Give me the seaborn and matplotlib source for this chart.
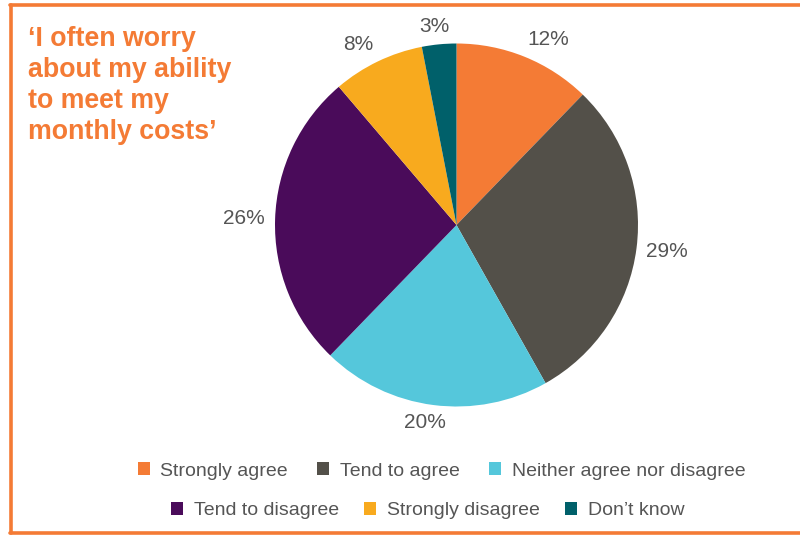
import matplotlib
matplotlib.use("Agg")
import numpy as np
import matplotlib.pyplot as plt
from matplotlib.patches import Patch
from matplotlib.lines import Line2D
import seaborn as sns

# Survey responses
categories = ["Strongly agree", "Tend to agree", "Neither agree nor disagree",
              "Tend to disagree", "Strongly disagree", "Don\u2019t know"]
values = [12, 29, 20, 26, 8, 3]
value_labels = [f"{v}%" for v in values]
title = "\u2018I often worry\nabout my ability\nto meet my\nmonthly costs\u2019"

colors = ["#F47B35", "#535049", "#55C7DB", "#4A0B5A", "#F8AA1E", "#00606A"]
accent = "#F47B35"
text_grey = "#555555"

sns.set_theme(style="white")
plt.rcParams["font.family"] = ["Liberation Sans", "DejaVu Sans"]

W, H = 800, 536
fig = plt.figure(figsize=(W / 100, H / 100), dpi=100)
fig.patch.set_facecolor("white")

# Pie axes: centre (456.5, 225) px, radius 181.5 px
cx, cy, r = 456.5, 225, 181.5
ax = fig.add_axes([(cx - r) / W, 1 - (cy + r) / H, 2 * r / W, 2 * r / H])

label_iter = iter(value_labels)
wedges, texts, autotexts = ax.pie(
    values,
    colors=colors,
    startangle=90,
    counterclock=False,
    autopct=lambda p: next(label_iter),
    pctdistance=1.15,
    wedgeprops=dict(linewidth=0),
    textprops=dict(color=text_grey, fontsize=15),
)
ax.set_xlim(-1, 1)
ax.set_ylim(-1, 1)
ax.set_aspect("equal")
ax.axis("off")

# Outside-end value labels: anchor just beyond the rim at the wedge's mid angle,
# then push the text box away from the pie so its near corner sits on the anchor
fig.canvas.draw()
renderer = fig.canvas.get_renderer()
gap_px = 10
for w, t in zip(wedges, autotexts):
    t.set_clip_on(False)
    mid = np.deg2rad((w.theta1 + w.theta2) / 2)
    ux, uy = np.cos(mid), np.sin(mid)
    bb = t.get_window_extent(renderer)
    hw = bb.width / 2
    hh = 0.36 * t.get_fontsize() * 100 / 72
    ax_px = (r + gap_px) * ux + hw * np.clip(2.5 * ux, -1, 1)
    ay_px = (r + gap_px) * uy + hh * np.clip(2.5 * uy, -1, 1)
    t.set_position((ax_px / r, ay_px / r))

# Title block
fig.text(28 / W, 1 - 26 / H, title, color=accent, fontsize=19.3,
         fontweight="bold", ha="left", va="top", linespacing=1.25)

# Legend rows
def legend_row(idx, x, y, spacing):
    handles = [Patch(facecolor=colors[i], edgecolor="none", label=categories[i]) for i in idx]
    lg = fig.legend(handles=handles, loc="center", bbox_to_anchor=(x / W, 1 - y / H),
                    ncol=len(idx), frameon=False, fontsize=14,
                    handlelength=0.63, handleheight=0.63, handletextpad=0.54,
                    columnspacing=spacing, borderpad=0, borderaxespad=0)
    for t in lg.get_texts():
        t.set_color(text_grey)
    return lg

legend_row([0, 1, 2], 441.5, 471, 1.5)
legend_row([3, 4, 5], 427.5, 510.5, 1.3)

# Frame lines around the panel
lw = 2.6
fig.add_artist(Line2D([10 / W, 1], [1 - 5.3 / H, 1 - 5.3 / H], color=accent, lw=lw,
                      transform=fig.transFigure))
fig.add_artist(Line2D([10.7 / W, 10.7 / W], [1 - 5 / H, 1 - 533 / H], color=accent, lw=lw,
                      transform=fig.transFigure))
fig.add_artist(Line2D([10 / W, 1], [1 - 533 / H, 1 - 533 / H], color=accent, lw=lw,
                      transform=fig.transFigure))

fig.savefig("out.png", dpi=100, facecolor="white")
